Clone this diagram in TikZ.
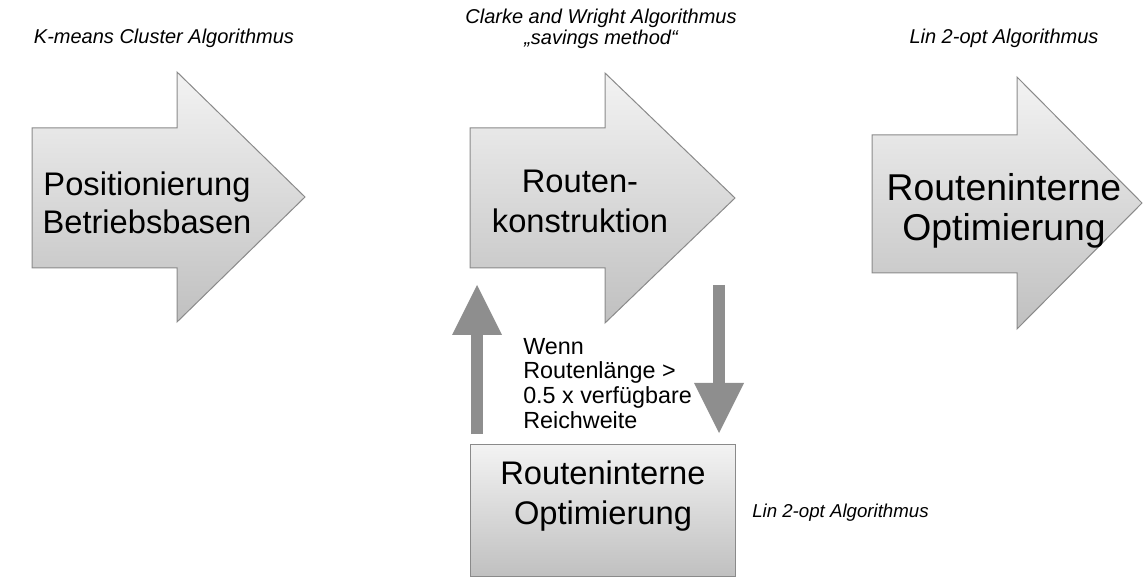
\documentclass[tikz,border=0pt]{standalone}
\usepackage{fontspec}
\setmainfont{Liberation Sans}
\usetikzlibrary{arrows.meta}
\definecolor{edgegray}{HTML}{8A8A8A}
\definecolor{bargray}{HTML}{8E8E8E}
\definecolor{shadetop}{HTML}{F3F3F3}
\definecolor{shadebot}{HTML}{C0C0C0}
\begin{document}
\begin{tikzpicture}[x=0.75pt,y=-0.75pt,
  blockarrow/.style={draw=edgegray, line width=0.75pt, line join=miter,
    top color=shadetop, bottom color=shadebot},
  stagebox/.style={draw=edgegray, line width=0.75pt, rectangle, inner sep=0pt,
    top color=shadetop, bottom color=shadebot, anchor=north west},
  feedback/.style={line width=9pt, draw=bargray,
    -{Triangle[width=37.5pt,length=37.5pt,line width=0pt]}},
  method/.style={font=\fontsize{15}{16}\selectfont\itshape, inner sep=0pt,
    align=center, anchor=base},
  stage/.style={inner sep=0pt, align=center, anchor=base},
  cond/.style={font=\fontsize{17.5}{18.5}\selectfont, inner sep=0pt,
    align=left, anchor=base west}]

\useasboundingbox (0,0) rectangle (1143,577);

% three process stages as block arrows
\shadedraw[blockarrow] (32,128) -- (177,128) -- (177,72) -- (305,197)
  -- (177,322) -- (177,268) -- (32,268) -- cycle;
\shadedraw[blockarrow] (470,128) -- (605,128) -- (605,73) -- (735,198)
  -- (605,323) -- (605,268) -- (470,268) -- cycle;
\shadedraw[blockarrow] (872,135) -- (1017,135) -- (1017,77) -- (1142,203)
  -- (1017,329) -- (1017,273) -- (872,273) -- cycle;

% stage labels
\node[stage, font=\fontsize{24.5}{28.5}\selectfont] (pos) at (147,234)
  {Positionierung\\Betriebsbasen};
\node[stage, font=\fontsize{24.5}{30}\selectfont] (kon) at (580,233)
  {Routen-\\konstruktion};
\node[stage, font=\fontsize{28}{30}\selectfont] (opt) at (1004,241)
  {Routeninterne\\Optimierung};

% algorithms used in each stage
\node[method] (m1) at (164,44) {K-means Cluster Algorithmus};
\node[method] (m2) at (601,45) {Clarke and Wright Algorithmus\\„savings method“};
\node[method] (m3) at (1004,44) {Lin 2-opt Algorithmus};

% optimisation step inside the construction loop
\node[stagebox, minimum width=198.75pt, minimum height=99pt] (loopbox) at (470,444) {};
\node[stage, font=\fontsize{24.5}{30}\selectfont] (looplabel) at (603,524)
  {Routeninterne\\Optimierung};
\node[font=\fontsize{14}{16}\selectfont\itshape, inner sep=0pt, anchor=base west]
  (m4) at (752,517) {Lin 2-opt Algorithmus};

% loop condition
\node[cond] (wenn) at (523,428)
  {Wenn\\Routenlänge >\\0.5 x verfügbare\\Reichweite};

% feedback connectors
\coordinate (upfoot) at (477,434);
\coordinate (uphead) at (477,285);
\coordinate (downfoot) at (719,285);
\coordinate (downhead) at (719,433);
\draw[feedback] (upfoot) -- (uphead);
\draw[feedback] (downfoot) -- (downhead);

\end{tikzpicture}
\end{document}
